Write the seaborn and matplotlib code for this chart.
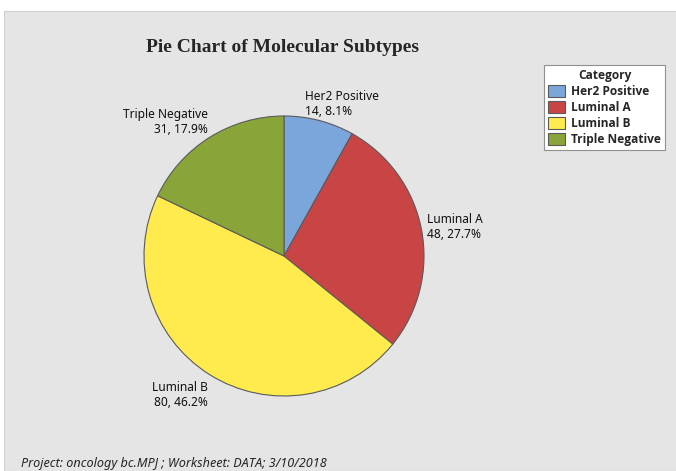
import matplotlib.pyplot as plt
import matplotlib.patches as mpatches
import seaborn as sns

# data
categories = ['Her2 Positive', 'Luminal A', 'Luminal B', 'Triple Negative']
counts = [14, 48, 80, 31]
colors = ['#7ba6db', '#c94545', '#ffeb4d', '#89a53a']

# where each slice label sits (figure pixels from top-left) and its alignment
label_pos = [(305, 90, 'left'), (427, 213, 'left'), (208, 381, 'right'), (208, 108, 'right')]

sns.set_style('white')
plt.rcParams['font.family'] = ['Noto Sans', 'DejaVu Sans']

W, H = 676, 471
fig = plt.figure(figsize=(W / 100, H / 100), dpi=100)
fig.patch.set_facecolor('white')

# gray panel
fig.patches.append(mpatches.Rectangle((4 / W, 0), 1, 1 - 11 / H, transform=fig.transFigure,
                                      facecolor='#e5e5e5', edgecolor='#d0d0d0', lw=0.8, zorder=-5))

cx, cy, r = 284, 256, 140
ax = fig.add_axes([(cx - r) / W, (H - cy - r) / H, 2 * r / W, 2 * r / H])
ax.set_facecolor('none')
ax.set_zorder(2)
ax.pie(counts, colors=sns.color_palette(colors), startangle=90, counterclock=False,
       wedgeprops=dict(edgecolor='#5a5a5a', linewidth=0.8))
ax.set_xlim(-1, 1)
ax.set_ylim(-1, 1)
ax.set_aspect('equal')
ax.axis('off')

total = sum(counts)
for cat, n, (px, py, ha) in zip(categories, counts, label_pos):
    fig.text(px / W, 1 - py / H, f'{cat}\n{n}, {100 * n / total:.1f}%', ha=ha, va='top',
             fontsize=8.6, color='#111111', linespacing=1.2)

fig.text(283 / W, 1 - 47 / H, 'Pie Chart of Molecular Subtypes', ha='center', va='center',
         fontsize=14, fontweight='bold', family='Liberation Serif')

handles = [mpatches.Patch(facecolor=c, edgecolor='#5a5a5a', lw=0.8, label=cat)
           for c, cat in zip(colors, categories)]
leg_font = {'family': 'Open Sans', 'weight': 'bold', 'size': 8.6}
leg = fig.legend(handles=handles, title='Category', loc='upper left',
                 bbox_to_anchor=(544 / W, 1 - 65 / H), frameon=True, fancybox=False,
                 prop=leg_font, title_fontproperties=leg_font,
                 handlelength=1.4, handleheight=1.15, handletextpad=0.5, labelspacing=0.25,
                 borderpad=0.35, borderaxespad=0)
leg.get_frame().set_edgecolor('#909090')
leg.get_frame().set_linewidth(0.8)
leg.get_frame().set_alpha(1)

fig.text(21 / W, 1 - 463 / H, 'Project: oncology bc.MPJ ; Worksheet: DATA; 3/10/2018',
         ha='left', va='center', fontsize=9.1, style='italic')

fig.savefig('out.png', dpi=100)
